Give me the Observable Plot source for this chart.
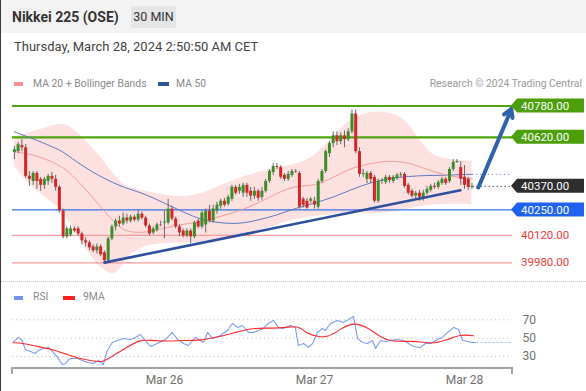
<!DOCTYPE html>
<html><head><meta charset="utf-8">
<script src="https://cdn.jsdelivr.net/npm/d3@7"></script>
<script src="https://cdn.jsdelivr.net/npm/@observablehq/plot@0.6"></script>
<style>
html,body{margin:0;padding:0;background:#fff;}
body{width:586px;height:391px;position:relative;overflow:hidden;font-family:Roboto,"Liberation Sans",sans-serif;}
.abs{position:absolute;white-space:nowrap;}
#border{left:0;top:0;width:1px;height:391px;background:#3a3a3a;}
#header{left:1px;top:0;width:585px;height:33px;background:#f3f3f3;}
#title{left:12px;top:8px;font-weight:bold;font-size:14px;line-height:18px;color:#333;}
#tf{left:131px;top:6px;width:45px;height:22px;background:#e5e5e5;font-size:12.5px;color:#333;line-height:22px;text-align:center;}
#date{left:14px;top:38px;font-size:13px;line-height:17px;color:#444;}
.leg{font-size:10.4px;line-height:14px;color:#8a8a8a;}
.sw{height:4px;width:9px;}
#sep{left:1px;top:281px;width:585px;height:0;border-top:1px dotted #cfcfcf;}
#price{left:0;top:95px;}
#rsi{left:0;top:305px;line-height:0;}
#rsi svg{display:block;}
</style>
</head><body>
<div id="border" class="abs"></div>
<div id="header" class="abs"></div>
<div id="title" class="abs">Nikkei 225 (OSE)</div>
<div id="tf" class="abs">30 MIN</div>
<div id="date" class="abs">Thursday, March 28, 2024 2:50:50 AM CET</div>
<div class="abs sw" style="left:14px;top:82px;background:#f79191"></div>
<div class="abs leg" style="left:33px;top:77px">MA 20 + Bollinger Bands</div>
<div class="abs sw" style="left:158px;top:82px;width:11px;background:#2f5597"></div>
<div class="abs leg" style="left:176px;top:77px">MA 50</div>
<div class="abs leg" style="right:4px;top:77px;color:#9a9a9a">Research © 2024 Trading Central</div>
<div id="sep" class="abs"></div>
<div class="abs sw" style="left:14px;top:296px;background:#6f93ee"></div>
<div class="abs leg" style="left:33px;top:290px">RSI</div>
<div class="abs sw" style="left:63px;top:296px;width:12px;background:#ff1f1f"></div>
<div class="abs leg" style="left:83px;top:290px">9MA</div>
<div id="price" class="abs"></div>
<div id="rsi" class="abs"></div>
<script>
// ---- candles (30 min), index 0..122 ----
const open = [40542,40547,40578,40567,40421,40395,40436,40406,40375,40395,40421,40406,40365,40244,40112,40122,40153,40153,40127,40092,40082,40061,40041,40061,40031,39991,40102,40163,40193,40178,40208,40193,40213,40198,40228,40208,40168,40132,40147,40173,40183,40183,40254,40203,40163,40142,40117,40142,40112,40193,40163,40173,40244,40193,40244,40269,40294,40279,40304,40365,40345,40335,40375,40345,40320,40345,40314,40345,40395,40441,40471,40466,40426,40406,40426,40446,40436,40304,40294,40294,40294,40264,40395,40446,40537,40588,40628,40598,40628,40608,40648,40739,40547,40431,40406,40436,40416,40294,40395,40390,40416,40395,40411,40426,40431,40375,40345,40320,40335,40309,40335,40350,40370,40365,40385,40406,40395,40456,40492,40466,40416,40406,40365];
const high = [40573,40593,40608,40583,40446,40446,40446,40416,40416,40431,40441,40426,40375,40254,40163,40168,40163,40163,40137,40107,40092,40072,40077,40072,40041,40112,40173,40203,40218,40234,40228,40223,40223,40249,40239,40218,40178,40163,40183,40193,40244,40304,40269,40213,40173,40153,40153,40153,40193,40203,40244,40254,40274,40274,40289,40304,40309,40325,40375,40375,40380,40385,40385,40365,40365,40355,40365,40406,40456,40487,40487,40476,40436,40446,40456,40456,40446,40314,40309,40314,40314,40406,40456,40557,40598,40648,40648,40643,40653,40664,40760,40760,40567,40456,40446,40446,40426,40406,40411,40426,40426,40426,40436,40441,40441,40385,40355,40345,40350,40350,40370,40380,40385,40400,40416,40416,40466,40507,40507,40497,40476,40416,40385];
const low = [40507,40537,40547,40411,40370,40375,40355,40345,40355,40375,40385,40345,40234,40102,40102,40112,40132,40117,40072,40061,40041,40031,40026,40011,39975,39981,40092,40142,40163,40168,40178,40183,40188,40188,40198,40158,40117,40122,40137,40163,40102,40173,40193,40153,40112,40107,40107,40077,40102,40153,40153,40132,40183,40183,40228,40254,40264,40269,40294,40325,40330,40314,40314,40294,40304,40294,40299,40335,40385,40426,40456,40406,40395,40395,40416,40436,40254,40259,40254,40284,40254,40254,40385,40436,40517,40567,40578,40583,40567,40598,40638,40537,40416,40416,40385,40385,40284,40284,40380,40380,40385,40385,40400,40416,40360,40325,40309,40304,40294,40294,40325,40340,40355,40355,40375,40375,40385,40446,40487,40375,40355,40350,40355];
const close = [40557,40583,40567,40421,40406,40436,40395,40375,40406,40421,40406,40365,40244,40112,40153,40153,40142,40127,40092,40082,40056,40041,40061,40021,39991,40102,40163,40193,40178,40208,40193,40213,40198,40228,40208,40168,40127,40153,40173,40171,40188,40254,40203,40163,40132,40117,40142,40112,40183,40163,40234,40244,40193,40254,40274,40294,40274,40314,40365,40335,40365,40375,40335,40320,40345,40309,40345,40395,40446,40471,40466,40416,40406,40431,40446,40443,40264,40274,40259,40304,40274,40395,40446,40547,40588,40628,40598,40628,40608,40648,40739,40547,40431,40436,40436,40406,40294,40395,40400,40416,40400,40416,40426,40431,40370,40335,40320,40335,40314,40335,40355,40370,40365,40390,40406,40385,40456,40492,40497,40406,40375,40365,40370];

// ---- indicators sampled along the candle index ----
const bandIdx = [0,5,10,13,15,20,25,28,30,35,40,45,50,55,60,65,70,75,80,85,90,95,100,105,110,115,120,122];
const bbUpper = [40623,40648,40679,40689,40679,40588,40471,40395,40365,40345,40325,40314,40330,40375,40411,40441,40466,40481,40517,40618,40724,40750,40750,40709,40537,40507,40497,40497];
const bbLower = [40471,40355,40294,40234,40183,40016,39915,39930,40016,40072,40077,40082,40082,40097,40117,40142,40173,40203,40218,40223,40239,40228,40234,40254,40274,40279,40279,40274];
const ma20 = [40547,40532,40497,40466,40436,40335,40218,40163,40137,40132,40158,40178,40188,40218,40244,40284,40335,40375,40370,40416,40466,40487,40502,40492,40456,40426,40411,40411];
const ma50 = [40648,40613,40573,40547,40517,40451,40400,40375,40360,40330,40284,40239,40198,40183,40178,40198,40223,40259,40284,40314,40355,40390,40411,40421,40426,40426,40431,40431];

// ---- key levels ----
const levels = [40780, 40620, 40370, 40250, 40120, 39980];
const levelKinds = ["green", "green", "current", "blue", "red", "red"];

// ---- trend line & projected move ----
const trendIdx = [24, 118.9];
const trendVal = [39981, 40350];
const arrowFrom = {i: 123.7, p: 40364};
const arrowTo = {i: 132.5, p: 40765};

// ---- RSI panel ----
const rsiIdx = [-0.3,1.1,2.1,2.9,4.3,5.6,6.4,7.7,9.1,10.4,11.7,12.8,13.6,14.9,16.8,18.1,19.5,21.1,22.4,23.7,24.8,26.1,27.5,29.1,30.9,32.3,33.6,34.9,36.3,38.1,40.3,42.1,43.5,45.1,46.4,48.3,49.6,50.4,51.5,52.8,54.9,56.8,58.1,59.5,60.8,62.4,63.7,65.1,66.4,67.7,69.1,70.4,71.7,73.6,74.9,75.7,77.1,78.4,79.5,80.8,82.1,82.9,84.3,86.1,87.7,89.1,90.4,91.5,92.8,94.1,95.5,96.3,97.6,98.9,100.3,102.1,103.7,105.1,106.4,108.3,109.6,110.9,112.8,114.1,115.5,117.1,118.4,119.5,120.8,122.1,122.9];
const rsiVal = [45.6,50.8,47.5,37.7,35.5,33.3,36.6,38.8,39.9,34.4,27.9,21.3,22.4,27.9,27.9,25.7,23.5,22.4,25.7,21.3,36.6,45.3,47.5,49.7,48.6,50.8,54,47.5,40.9,44.2,48.6,56.2,48.6,44.2,42,50.8,47.5,45.3,56.2,49.7,52.9,58.4,66,61.7,63.8,56.2,56.2,58.4,60.6,66,69.3,61.7,60.6,63.8,61.7,42,44.2,39.9,44.2,56.2,60.6,58.4,66,69.3,67.1,70.4,73.7,49.7,45.3,44.2,47.5,38.8,47.5,46.4,47.5,48.6,47.5,44.2,40.9,39.9,44.2,44.2,48.6,50.8,56.2,61.7,59.5,47.5,46.4,45.3,45.3];
const ma9Idx = [-0.3,2.1,5.1,7.7,10.4,14.1,17.6,21.1,23.7,26.4,30.1,33.6,36.3,40.8,45.1,49.6,54.1,58.4,62.9,67.5,71.7,74.9,76.3,78.1,80.8,83.5,87,90.4,94.1,97.6,100.3,105.6,109.1,111.7,115.5,118.9,121.6,122.4];
const ma9Val = [45,44.5,42,39.5,37.4,32.2,27.5,24.9,23.8,31.1,40.2,48.6,47.5,46.7,47.5,47.5,51.1,55.5,60.9,60.9,61.3,63.1,61.3,54.8,51.9,50.4,60.3,67.4,62,51.1,46.4,46.7,45.6,43.9,48.3,54,52.9,52.6];
const rsiTicks = [30, 50, 70];
const xTicks = [40, 80, 120];
const xTickLabels = ["Mar 26", "Mar 27", "Mar 28"];

// ---- build tables ----
const candles = close.map((c, i) => ({i, o: open[i], h: high[i], l: low[i], c}));
const band = bandIdx.map((i, k) => ({i, up: bbUpper[k], lo: bbLower[k], m20: ma20[k], m50: ma50[k]}));
const trend = trendIdx.map((i, k) => ({i, p: trendVal[k]}));
const rsi = rsiIdx.map((i, k) => ({i, v: rsiVal[k]}));
const ma9 = ma9Idx.map((i, k) => ({i, v: ma9Val[k]}));
const lv = levels.map((v, k) => ({v, kind: levelKinds[k]}));
const lastI = candles.length - 1;
const xDomain = [-0.5, 132.8];
const font = "Roboto, 'Liberation Sans', sans-serif";

const boxFill = {green: "#4c9e0a", current: "#2e2e2e", blue: "#1f62f0"};

function labelMark(index, scales, values, dims) {
  const g = d3.create("svg:g").attr("font-family", font).attr("font-size", 11.5).attr("text-anchor", "start");
  const tip = dims.width - dims.marginRight - 1;
  for (const d of lv) {
    const y = scales.y(d.v);
    const txt = d.v.toFixed(2);
    if (d.kind === "red") {
      g.append("text").attr("x", tip + 10).attr("y", y).attr("dy", "0.36em").attr("text-anchor", "start").attr("fill", "#f23a3a").text(txt);
    } else {
      g.append("path").attr("d", `M${tip},${y}L${tip + 6},${y - 7}H584V${y + 7}H${tip + 6}Z`).attr("fill", boxFill[d.kind]);
      g.append("text").attr("x", tip + 10).attr("y", y).attr("dy", "0.36em").attr("text-anchor", "start").attr("fill", "#fff").text(txt);
    }
  }
  return g.node();
}

// bottom axis line with end ticks for the RSI panel
function axisLine(index, scales, values, dims) {
  const y = Math.round(dims.height - dims.marginBottom);
  const x0 = dims.marginLeft, x1 = dims.width - dims.marginRight;
  const g = d3.create("svg:g");
  g.append("path").attr("d", `M${x0},${y + 6}V${y}H${x1}V${y + 6}`)
    .attr("fill", "none").attr("stroke", "#a3a3a3").attr("stroke-width", 2);
  return g.node();
}

const pricePlot = Plot.plot({
  width: 586, height: 180,
  marginLeft: 12, marginRight: 74, marginTop: 10.5, marginBottom: 12.7,
  style: {fontFamily: font, background: "transparent", overflow: "visible"},
  x: {domain: xDomain, axis: null},
  y: {domain: [39980, 40780], axis: null},
  marks: [
    Plot.areaY(band, {x: "i", y1: "lo", y2: "up", fill: "#fde1e1", curve: "basis"}),
    Plot.ruleY(lv.filter(d => d.kind === "red"), {y: "v", stroke: "#ff9a9a", strokeWidth: 1.3}),
    Plot.ruleY(lv.filter(d => d.kind === "blue"), {y: "v", stroke: "#3d70e6", strokeWidth: 1.3}),
    Plot.ruleY(lv.filter(d => d.kind === "green"), {y: "v", stroke: "#4fa50c", strokeWidth: 2.2}),
    Plot.ruleY(lv.filter(d => d.kind === "current"), {y: "v", x1: lastI - 0.8, x2: arrowTo.i, stroke: "#555", strokeDasharray: "1.5,2.5"}),
    Plot.ruleY([ma50[ma50.length - 1]], {x1: lastI - 1, x2: arrowTo.i, stroke: "#7d95cf", strokeDasharray: "1.5,2.5"}),
    Plot.line(band, {x: "i", y: "m50", stroke: "#5a78bd", strokeWidth: 1, curve: "basis"}),
    Plot.line(band, {x: "i", y: "m20", stroke: "#f39a9a", strokeWidth: 1, curve: "basis"}),
    Plot.ruleX(candles, {x: "i", y1: "l", y2: "h", stroke: "#666", strokeWidth: 1}),
    Plot.ruleX(candles, {x: "i", y1: "o", y2: "c", stroke: d => d.c >= d.o ? "#3a8d29" : "#d42626", strokeWidth: 3}),
    Plot.line(trend, {x: "i", y: "p", stroke: "#2d4f9d", strokeWidth: 2.6}),
    Plot.arrow([{}], {x1: () => arrowFrom.i, y1: () => arrowFrom.p, x2: () => arrowTo.i, y2: () => arrowTo.p, stroke: "#2f62aa", strokeWidth: 4, headLength: 3.4, headAngle: 60}),
    labelMark
  ]
});
document.getElementById("price").append(pricePlot);

const rsiPlot = Plot.plot({
  width: 586, height: 86,
  marginLeft: 12, marginRight: 74, marginTop: 0, marginBottom: 22.7,
  style: {fontFamily: font, fontSize: "12px", color: "#6f6f6f", background: "transparent", overflow: "visible"},
  x: {domain: xDomain, ticks: xTicks, tickFormat: d => xTickLabels[xTicks.indexOf(d)], tickSize: 0, tickPadding: 7, label: null},
  y: {domain: [16.6, 85.6], ticks: rsiTicks, axis: "right", tickSize: 0, tickPadding: 10, label: null},
  marks: [
    Plot.ruleY(rsiTicks, {stroke: "#b8b8b8", strokeDasharray: "1,3.2"}),
    Plot.ruleY([rsiVal[rsiVal.length - 1]], {x1: 123.4, x2: arrowTo.i, stroke: "#7f9cf0", strokeDasharray: "1.5,2.5"}),
    Plot.line(rsi, {x: "i", y: "v", stroke: "#7c9bf0", strokeWidth: 1.1}),
    Plot.line(ma9, {x: "i", y: "v", stroke: "#ff2a2a", strokeWidth: 1.1, curve: "basis"}),
    axisLine
  ]
});
document.getElementById("rsi").append(rsiPlot);
</script>
</body></html>
